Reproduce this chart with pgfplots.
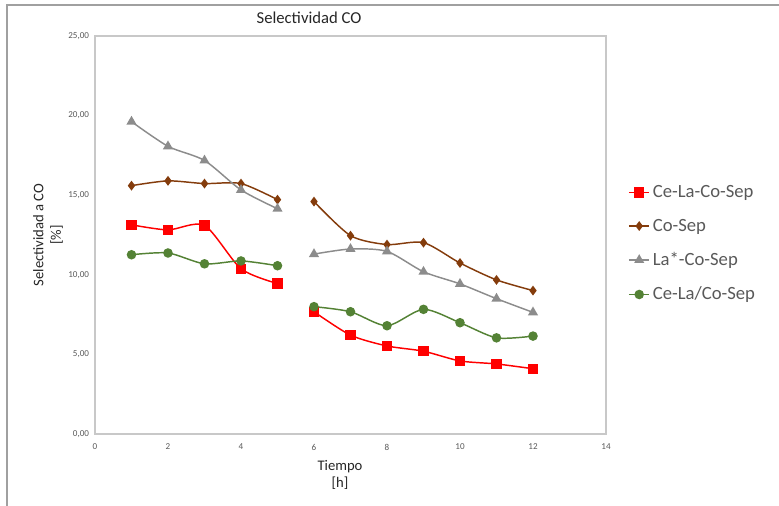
\documentclass[border=0pt]{standalone}
\usepackage{pgfplots}
\pgfplotsset{compat=1.18}
\usepackage{fontspec}
\setmainfont{Carlito}
\definecolor{cred}{HTML}{FF0000}
\definecolor{cbrown}{HTML}{843C0C}
\definecolor{cgray}{HTML}{8C8C8C}
\definecolor{cgreen}{HTML}{548235}
\definecolor{ctick}{HTML}{595959}
\definecolor{cframe}{HTML}{C8C8C8}
\begin{document}
\begin{tikzpicture}[x=0.75pt,y=0.75pt]
\useasboundingbox (-95,-72) rectangle (684,434);
\draw[color=cframe!80!black, line width=1.5pt] (-88,-72) -- (-88,429) -- (684,429);
\begin{axis}[
  at={(0,0)}, anchor=south west,
  scale only axis, width=383.25pt, height=298.5pt,
  xmin=0, xmax=14, ymin=0, ymax=25,
  xtick={0,2,...,14}, ytick={0,5,...,25},
  major tick length=0pt,
  axis line style={cframe, line width=0.8pt},
  tick label style={font=\fontsize{6.8}{8}\selectfont, text=ctick},
  /pgf/number format/assume math mode=true,
  yticklabel style={/pgf/number format/.cd, fixed, fixed zerofill, precision=2, use comma},
  xticklabel style={/pgf/number format/.cd, fixed, precision=0},
  xticklabel shift=4pt, yticklabel shift=1pt,
  legend style={at={(1.043,0.478)}, anchor=west, draw=none, fill=none,
    font=\fontsize{14}{16}\selectfont, text=ctick, row sep=10.5pt,
    inner sep=0pt, cells={anchor=west}},
  legend image code/.code={\draw[mark repeat=2,mark phase=2] plot coordinates {(0cm,0cm) (0.27cm,0cm) (0.54cm,0cm)};},
  every axis plot/.append style={smooth, tension=0.45, line width=1.1pt},
  clip=false,
]
% Ce-La-Co-Sep
\addplot[cred, mark=square*, mark size=3.3pt, mark options={fill=cred}] coordinates {(1,13.14) (2,12.82) (3,13.10) (4,10.38) (5,9.45)};
\addlegendentry{Ce-La-Co-Sep}
\addplot[cbrown, mark=diamond*, mark size=2.8pt, mark options={fill=cbrown}] coordinates {(1,15.60) (2,15.90) (3,15.73) (4,15.73) (5,14.72)};
\addlegendentry{Co-Sep}
\addplot[cgray, mark=triangle*, mark size=3.3pt, mark options={fill=cgray}] coordinates {(1,19.62) (2,18.07) (3,17.18) (4,15.33) (5,14.15)};
\addlegendentry{La*-Co-Sep}
\addplot[cgreen, mark=*, mark size=3pt, mark options={fill=cgreen}] coordinates {(1,11.26) (2,11.37) (3,10.69) (4,10.87) (5,10.57)};
\addlegendentry{Ce-La/Co-Sep}
% second segments
\addplot[cred, mark=square*, mark size=3.3pt, mark options={fill=cred}, forget plot] coordinates {(6,7.68) (7,6.21) (8,5.53) (9,5.20) (10,4.59) (11,4.40) (12,4.10)};
\addplot[cbrown, mark=diamond*, mark size=2.8pt, mark options={fill=cbrown}, forget plot] coordinates {(6,14.60) (7,12.46) (8,11.90) (9,12.02) (10,10.74) (11,9.68) (12,9.01)};
\addplot[cgray, mark=triangle*, mark size=3.3pt, mark options={fill=cgray}, forget plot] coordinates {(6,11.30) (7,11.62) (8,11.47) (9,10.19) (10,9.43) (11,8.50) (12,7.64)};
\addplot[cgreen, mark=*, mark size=3pt, mark options={fill=cgreen}, forget plot] coordinates {(6,8.00) (7,7.68) (8,6.80) (9,7.83) (10,6.99) (11,6.04) (12,6.15)};
\end{axis}
\node[font=\fontsize{12.5}{14}\selectfont, text=black!85] at (214,416) {Selectividad CO};
\node[font=\fontsize{11}{13}\selectfont, text=black!85, rotate=90, align=center] at (-47,199) {Selectividad a CO\\{[\%]}};
\node[font=\fontsize{11}{13}\selectfont, text=black!85, align=center] at (245,-41) {Tiempo\\{[h]}};
\end{tikzpicture}
\end{document}
